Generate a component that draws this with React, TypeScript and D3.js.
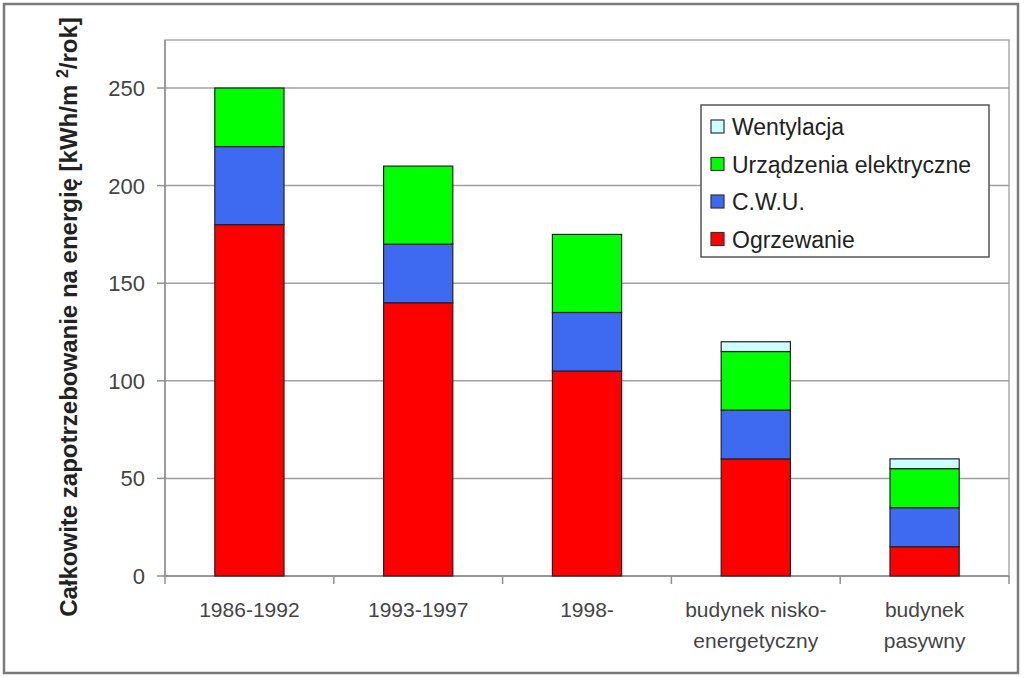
import React from "react";
import * as d3 from "d3";

const categories: string[][] = [
  ["1986-1992"],
  ["1993-1997"],
  ["1998-"],
  ["budynek nisko-", "energetyczny"],
  ["budynek", "pasywny"],
];
const ogrzewanie = [180, 140, 105, 60, 15];
const cwu = [40, 30, 30, 25, 20];
const urzadzenia = [30, 40, 40, 30, 20];
const wentylacja = [0, 0, 0, 5, 5];
const seriesNames = ["Ogrzewanie", "C.W.U.", "Urządzenia elektryczne", "Wentylacja"];
const seriesColors = ["#ff0000", "#3e6af2", "#00ff00", "#ccffff"];
const yTicks = [0, 50, 100, 150, 200, 250];

const W = 1024;
const H = 678;
const plot = { left: 165, top: 40, right: 1009, bottom: 576 };
const FONT = "'Liberation Sans', Arial, sans-serif";

export default function App() {
  const keys = categories.map((c) => c.join(" "));
  const x = d3.scaleBand<string>().domain(keys).range([plot.left, plot.right]).paddingInner(0.59).paddingOuter(0.295);
  const y = d3.scaleLinear().domain([0, 274.6]).range([plot.bottom, plot.top]);
  const band = d3.scaleBand<string>().domain(keys).range([plot.left, plot.right]);

  const rows = keys.map((k, i) => ({
    key: k,
    Ogrzewanie: ogrzewanie[i],
    "C.W.U.": cwu[i],
    "Urządzenia elektryczne": urzadzenia[i],
    Wentylacja: wentylacja[i],
  }));
  const stacked = d3.stack<any>().keys(seriesNames)(rows);

  const legendItems = [...seriesNames].reverse();
  const legendColors = [...seriesColors].reverse();

  return (
    <div style={{ position: "absolute", left: 0, top: 0 }}>
      <svg width={W} height={H} style={{ display: "block", background: "#fff" }}>
        <rect x={4} y={4} width={1014} height={669} fill="#fff" stroke="#7a7a7a" strokeWidth={2.5} />
        {/* plot area */}
        <rect x={plot.left} y={plot.top} width={plot.right - plot.left} height={plot.bottom - plot.top} fill="#fff" stroke="#aaa" strokeWidth={1.5} />
        {yTicks.map((t) => (
          <g key={t}>
            <line x1={plot.left} x2={plot.right} y1={y(t)} y2={y(t)} stroke="#a0a0a0" strokeWidth={1.5} />
            <line x1={plot.left - 8} x2={plot.left} y1={y(t)} y2={y(t)} stroke="#909090" strokeWidth={1.5} />
            <text x={plot.left - 20} y={y(t)} dy="0.36em" textAnchor="end" fontFamily={FONT} fontSize={22} fill="#444">
              {t}
            </text>
          </g>
        ))}
        <line x1={plot.left} x2={plot.left} y1={plot.top} y2={plot.bottom} stroke="#909090" strokeWidth={1.5} />
        <line x1={plot.left} x2={plot.right} y1={plot.bottom} y2={plot.bottom} stroke="#909090" strokeWidth={1.5} />
        {keys.map((k, i) => (
          <line key={"xt" + i} x1={band(k)!} x2={band(k)!} y1={plot.bottom} y2={plot.bottom + 8} stroke="#909090" strokeWidth={1.5} />
        ))}
        <line x1={plot.right} x2={plot.right} y1={plot.bottom} y2={plot.bottom + 8} stroke="#909090" strokeWidth={1.5} />
        {/* bars */}
        {stacked.map((s, si) =>
          s.map((d, i) =>
            d[1] - d[0] > 0 ? (
              <rect
                key={si + "-" + i}
                x={x(keys[i])!}
                y={y(d[1])}
                width={x.bandwidth()}
                height={y(d[0]) - y(d[1])}
                fill={seriesColors[si]}
                stroke="#222"
                strokeWidth={1.2}
              />
            ) : null
          )
        )}
        {/* x labels */}
        {categories.map((c, i) => (
          <text key={"xl" + i} x={band(keys[i])! + band.bandwidth() / 2} y={617} textAnchor="middle" fontFamily={FONT} fontSize={21} fill="#444">
            {c.map((line, li) => (
              <tspan key={li} x={band(keys[i])! + band.bandwidth() / 2} dy={li === 0 ? 0 : 31}>
                {line}
              </tspan>
            ))}
          </text>
        ))}
        {/* y title */}
        <text transform={`translate(77,317) rotate(-90)`} textAnchor="middle" fontFamily={FONT} fontSize={24} fontWeight="bold" fill="#222">
          Całkowite zapotrzebowanie na energię [kWh/m <tspan dy={-9} fontSize={16}>2</tspan>
          <tspan dy={9}>/rok]</tspan>
        </text>
        {/* legend */}
        <rect x={701} y={105} width={288} height={152} fill="#fff" stroke="#555" strokeWidth={1.5} />
        {legendItems.map((n, i) => (
          <g key={n} transform={`translate(711,${127 + i * 37.5})`}>
            <rect x={0} y={-7} width={13} height={13} fill={legendColors[i]} stroke="#333" strokeWidth={1.2} />
            <text x={21} y={0} dy="0.36em" fontFamily={FONT} fontSize={23} fill="#222">
              {n}
            </text>
          </g>
        ))}
      </svg>
    </div>
  );
}
